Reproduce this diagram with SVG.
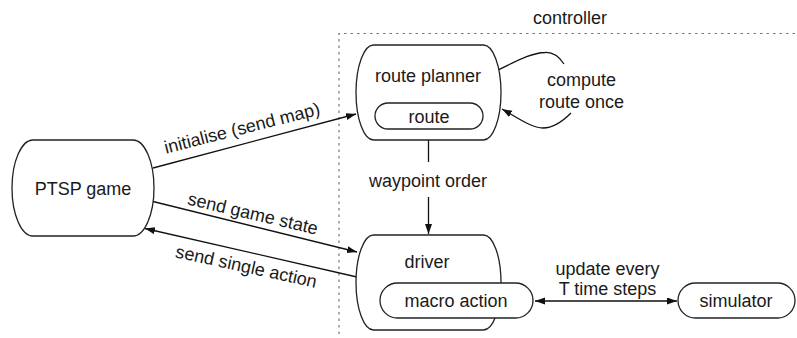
<svg xmlns="http://www.w3.org/2000/svg" width="797" height="338" viewBox="0 0 797 338">
  <defs>
    <marker id="arrow" markerWidth="11" markerHeight="8" refX="10" refY="3.5" orient="auto-start-reverse" markerUnits="userSpaceOnUse">
      <path d="M0,0 L10,3.5 L0,7 z" fill="#111"/>
    </marker>
    <style>
      .node { fill: #fff; stroke: #222; stroke-width: 1.3; }
      .line { fill: none; stroke: #111; stroke-width: 1.3; }
      .boundary { fill: none; stroke: #777; stroke-width: 1.2; stroke-dasharray: 2.5 4; }
      text { font-family: "Liberation Sans", Arial, Helvetica, sans-serif; font-size: 18px; fill: #1a1a1a; text-anchor: middle; }
    </style>
  </defs>
  <rect width="797" height="338" fill="#fff"/>

  <!-- controller boundary -->
  <g id="controller">
    <path class="boundary" d="M339,334 V33.5 H797"/>
    <text x="570" y="24">controller</text>
  </g>

  <!-- connectors -->
  <g id="connectors">
    <!-- initialise (send map) -->
    <line class="line" x1="153" y1="168" x2="356" y2="114" marker-end="url(#arrow)"/>
    <text x="243.5" y="134" transform="rotate(-14.2 243.5 134)">initialise (send map)</text>
    <!-- send game state -->
    <line class="line" x1="153" y1="201.5" x2="357" y2="252" marker-end="url(#arrow)"/>
    <text x="251.5" y="219.5" transform="rotate(13.2 251.5 219.5)">send game state</text>
    <!-- send single action -->
    <line class="line" x1="357" y1="277" x2="145" y2="228.5" marker-end="url(#arrow)"/>
    <text x="245" y="272.5" transform="rotate(12.3 245 272.5)">send single action</text>
    <!-- compute route once (self loop) -->
    <path class="line" d="M498,70 C515,62 530,53 545,52.5 C553,52 560,58 564,64"/>
    <path class="line" d="M571,113 C563,121 553,128 543,128 C532,128 518,118 502,109" marker-end="url(#arrow)"/>
    <text x="581.5" y="85.5">compute</text>
    <text x="581.5" y="107.5">route once</text>
    <!-- waypoint order -->
    <line class="line" x1="428.5" y1="140" x2="428.5" y2="162"/>
    <line class="line" x1="428.5" y1="197" x2="428.5" y2="234" marker-end="url(#arrow)"/>
    <text x="428" y="187">waypoint order</text>
    <!-- update every T time steps -->
    <line class="line" x1="535" y1="301" x2="677" y2="301" marker-start="url(#arrow)" marker-end="url(#arrow)"/>
    <text x="607.5" y="275">update every</text>
    <text x="607.5" y="295">T time steps</text>
  </g>

  <!-- PTSP game -->
  <g id="ptsp-game">
    <path class="node" d="M33,140 H133 A21,48 0 0 1 133,236 H33 A21,48 0 0 1 33,140 z"/>
    <text x="83" y="195">PTSP game</text>
  </g>

  <!-- route planner -->
  <g id="route-planner">
    <path class="node" d="M373.5,45 H483.5 A17.5,47.5 0 0 1 483.5,140 H373.5 A17.5,47.5 0 0 1 373.5,45 z"/>
    <text x="428" y="82">route planner</text>
    <rect class="node" x="375" y="103" width="108" height="26" rx="13" ry="13"/>
    <text x="429" y="123">route</text>
  </g>

  <!-- driver -->
  <g id="driver">
    <path class="node" d="M373.5,235 H483.5 A17.5,47.5 0 0 1 483.5,330 H373.5 A17.5,47.5 0 0 1 373.5,235 z"/>
    <text x="427" y="268">driver</text>
    <rect class="node" x="380" y="283" width="153" height="35" rx="17.5" ry="17.5"/>
    <text x="456" y="307">macro action</text>
  </g>

  <!-- simulator -->
  <g id="simulator">
    <rect class="node" x="678" y="283" width="117" height="35" rx="17.5" ry="17.5"/>
    <text x="736" y="307">simulator</text>
  </g>
</svg>
